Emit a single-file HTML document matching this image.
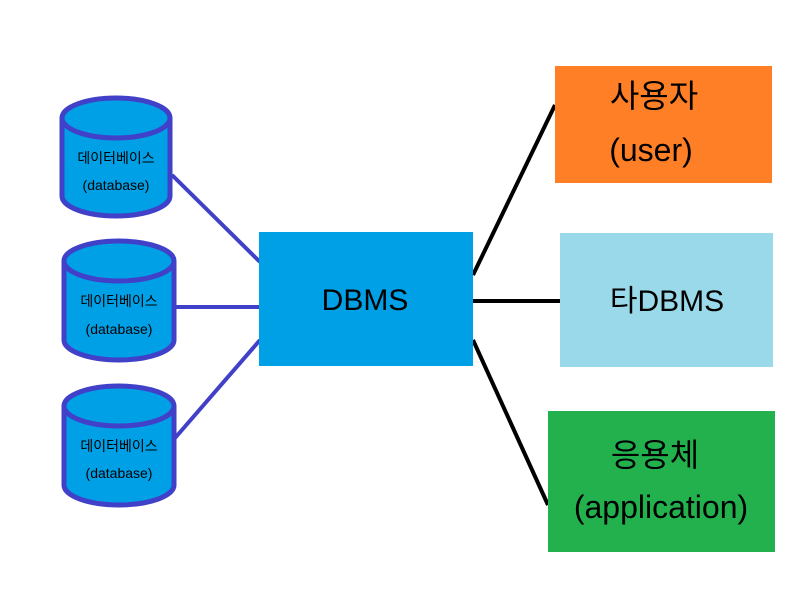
<!DOCTYPE html>
<html><head><style>body{margin:0;background:#fff}svg{display:block}text{font-family:"Liberation Sans","Noto Sans CJK KR",sans-serif}</style></head><body>
<svg width="807" height="595" viewBox="0 0 807 595">
<g stroke="#4040c8" stroke-width="4">
<line x1="172" y1="175" x2="260" y2="262"/>
<line x1="175" y1="307" x2="260" y2="307"/>
<line x1="175" y1="438" x2="260" y2="340"/>
</g>
<g stroke="#000" stroke-width="4">
<line x1="473" y1="275" x2="555" y2="105"/>
<line x1="473" y1="301" x2="560" y2="301"/>
<line x1="473" y1="340" x2="548" y2="505"/>
</g>
<g fill="#00a0e6" stroke="#4040c8" stroke-width="5">
<path d="M62,118 L62,196 A54,20 0 0 0 170,196 L170,118"/>
<ellipse cx="116" cy="118" rx="54" ry="20"/>
<path d="M64,261 L64,340 A55,20 0 0 0 174,340 L174,261"/>
<ellipse cx="119" cy="261" rx="55" ry="20"/>
<path d="M64,406 L64,485 A55,20 0 0 0 174,485 L174,406"/>
<ellipse cx="119" cy="406" rx="55" ry="20"/>
</g>
<g font-size="14" fill="#000" text-anchor="middle">
<text x="116" y="163">데이터베이스</text><text x="116" y="190">(database)</text>
<text x="119" y="306">데이터베이스</text><text x="119" y="334">(database)</text>
<text x="119" y="451">데이터베이스</text><text x="119" y="478">(database)</text>
</g>
<rect x="259" y="232" width="214" height="134" fill="#00a0e6"/>
<text x="365" y="310" font-size="30" text-anchor="middle">DBMS</text>
<rect x="555" y="66" width="217" height="117" fill="#ff7f27"/>
<text x="654" y="107" font-size="32" text-anchor="middle">사용자</text>
<text x="651" y="161" font-size="32" text-anchor="middle">(user)</text>
<rect x="560" y="233" width="213" height="134" fill="#99d9ea"/>
<text x="667" y="311" font-size="30" text-anchor="middle">타DBMS</text>
<rect x="548" y="411" width="227" height="141" fill="#22b14c"/>
<text x="655" y="466" font-size="32" text-anchor="middle">응용체</text>
<text x="661" y="518" font-size="32" text-anchor="middle">(application)</text>
</svg>
</body></html>
